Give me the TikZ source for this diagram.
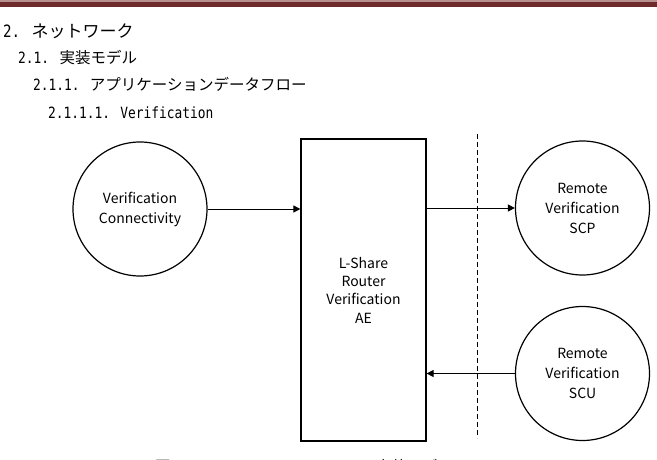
\documentclass[tikz,border=0pt]{standalone}
\usepackage{fontspec}
\setmainfont{Noto Sans CJK JP}
\newfontfamily\jpf{Noto Sans CJK JP}
\newfontfamily\hmf[FakeStretch=0.83]{DejaVu Sans Mono}
\usetikzlibrary{arrows.meta}
\definecolor{barred}{HTML}{6E2A2A}
\definecolor{barlight}{HTML}{B89090}
\begin{document}
\begin{tikzpicture}[x=1pt,y=-1pt,
  heading/.style={anchor=base west, inner sep=0pt, font=\fontsize{15.5}{18}\selectfont},
  headingA/.style={anchor=base west, inner sep=0pt, font=\fontsize{17}{20}\selectfont},
  circ/.style={circle, draw, line width=1.2pt, minimum size=134pt, inner sep=0pt, align=center, font=\fontsize{14}{20}\selectfont},
  aebox/.style={rectangle, draw, line width=1.2pt, minimum width=125pt, minimum height=302pt, inner sep=0pt, align=center, font=\fontsize{14}{18.3}\selectfont},
  flow/.style={line width=1pt, -{Triangle[length=7pt,width=7pt]}},
  border/.style={line width=1pt, dash pattern=on 5pt off 3pt}
]
\useasboundingbox (0,0) rectangle (657,460);
% top bar
\fill[barlight] (0,0) rectangle (657,2);
\fill[barred] (0,2) rectangle (657,7);
% headings
\node[headingA] (h1) at (3,38) {\hmf 2. \jpf ネットワーク};
\node[heading] (h2) at (18,64) {\hmf 2.1. \jpf 実装モデル};
\node[heading] (h3) at (33,91) {\hmf 2.1.1. \jpf アプリケーションデータフロー};
\node[heading] (h4) at (48,119) {\hmf 2.1.1.1. Verification};
% diagram
\node[circ] (vc) at (140,209) {Verification\\Connectivity};
\node[aebox] (ae) at (363.5,290) {L-Share\\Router\\Verification\\AE};
\node[circ] (scp) at (582.5,208) {Remote\\Verification\\SCP};
\node[circ] (scu) at (582.5,373.5) {Remote\\Verification\\SCU};
\coordinate (d1) at (477,134);
\coordinate (d2) at (477,438);
\draw[border] (d1) -- (d2);
\draw[flow] (vc.east) -- (vc.east -| ae.west);
\draw[flow] (ae.east |- scp.west) -- (scp.west);
\draw[flow] (scu.west) -- (scu.west -| ae.east);
% caption (cut off at the bottom edge, as in the reference)
\node[heading] (cap) at (155,472) {\jpf 図 \hmf 2.1.1.1-1 L-Share Router\jpf の実装モデル\hmf (Verification)};
\end{tikzpicture}
\end{document}
